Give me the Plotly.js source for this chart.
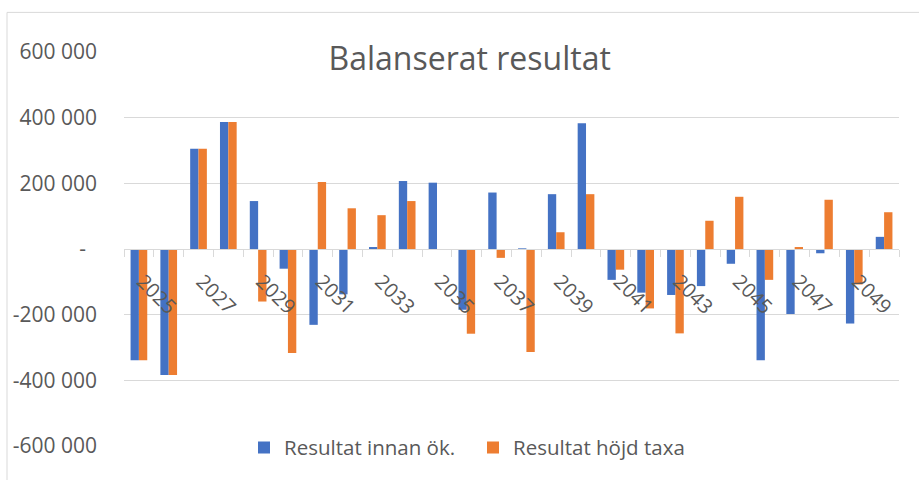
<!DOCTYPE html>
<html>
<head>
<meta charset="utf-8">
<script src="https://cdn.plot.ly/plotly-3.0.1.min.js"></script>
<style>
  html, body { margin: 0; padding: 0; background: #ffffff; }
  #chart { width: 919px; height: 480px; }
</style>
</head>
<body>
<div id="chart"></div>
<script>
// ---- data ----
var years = [2025, 2026, 2027, 2028, 2029, 2030, 2031, 2032, 2033, 2034, 2035, 2036, 2037,
             2038, 2039, 2040, 2041, 2042, 2043, 2044, 2045, 2046, 2047, 2048, 2049, 2050];

var resultatInnanOk = [-339000, -384000, 305000, 387000, 146000, -60000, -231000, -138000, 6000, 207000,
                       202000, -185000, 172000, 2000, 167000, 383000, -94000, -133000, -140000, -113000,
                       -45000, -339000, -198000, -13000, -227000, 37000];

var resultatHojdTaxa = [-339000, -384000, 305000, 387000, -160000, -317000, 204000, 124000, 103000, 146000,
                        -1000, -258000, -27000, -314000, 51000, 167000, -63000, -181000, -257000, 86000,
                        159000, -94000, 6000, 150000, -108000, 112000];

var seriesNames = ["Resultat innan ök.", "Resultat höjd taxa"];

var xTickYears = [2025, 2027, 2029, 2031, 2033, 2035, 2037, 2039, 2041, 2043, 2045, 2047, 2049];
var xTickLabels = ["2025", "2027", "2029", "2031", "2033", "2035", "2037", "2039", "2041", "2043", "2045", "2047", "2049"];

var yTickVals = [-600000, -400000, -200000, 0, 200000, 400000, 600000];
var yTickLabels = ["-600 000", "-400 000", "-200 000", "-\u00a0\u00a0", "200 000", "400 000", "600 000"];

var chartTitle = "Balanserat resultat";

// ---- styles ----
var BLUE = "#4472C4", ORANGE = "#ED7D31", TEXT = "#595959", GRID = "#D9D9D9";
var FONT = "'Open Sans', 'Noto Sans', sans-serif";

var traces = [
  { type: "bar", name: seriesNames[0], x: years, y: resultatInnanOk,
    marker: { color: BLUE, line: { width: 0 } }, hoverinfo: "x+y+name" },
  { type: "bar", name: seriesNames[1], x: years, y: resultatHojdTaxa,
    marker: { color: ORANGE, line: { width: 0 } }, hoverinfo: "x+y+name" }
];

var firstYear = years[0], lastYear = years[years.length - 1];
// rotated labels sit slightly right of the category centre, as in the original
var labelShift = 0.12;
var xTickPositions = xTickYears.map(function (y) { return y + labelShift; });

var layout = {
  width: 919, height: 480,
  margin: { l: 124, r: 20, t: 52, b: 30, pad: 0 },
  paper_bgcolor: "#ffffff", plot_bgcolor: "#ffffff",
  font: { family: FONT, color: TEXT },
  barmode: "group", bargap: 0.44, bargroupgap: 0,
  showlegend: true,
  title: {
    text: chartTitle,
    font: { family: FONT, size: 32, color: TEXT },
    xref: "paper", x: 0.446, xanchor: "center",
    yref: "container", y: 0.878, yanchor: "middle"
  },
  xaxis: {
    type: "linear",
    range: [firstYear - 0.5, lastYear + 0.5],
    tickmode: "array", tickvals: xTickPositions, ticktext: xTickLabels,
    tickangle: 45,
    ticks: "",
    ticklabelstandoff: 12,
    tickfont: { family: FONT, size: 20, color: TEXT },
    showgrid: false, zeroline: false,
    showline: true, linecolor: GRID, linewidth: 1,
    anchor: "free", position: 0.5,
    minor: { tickmode: "linear", tick0: firstYear - 0.5, dtick: 1,
             ticks: "outside", ticklen: 7, tickwidth: 1, tickcolor: GRID, showgrid: false },
    fixedrange: true
  },
  yaxis: {
    range: [-600000, 600000],
    tickmode: "array", tickvals: yTickVals, ticktext: yTickLabels,
    ticks: "",
    ticklabelstandoff: 26,
    tickfont: { family: FONT, size: 21, color: TEXT },
    showgrid: true, gridcolor: GRID, gridwidth: 1,
    zeroline: false, showline: false,
    fixedrange: true
  },
  legend: {
    orientation: "h",
    x: (244 - 124) / 775, xanchor: "left",
    y: -0.004, yanchor: "middle",
    entrywidth: 184, entrywidthmode: "pixels",
    bgcolor: "rgba(0,0,0,0)",
    font: { family: FONT, size: 20.5, color: TEXT },
    traceorder: "normal"
  },
  shapes: [
    { type: "rect", xref: "paper", yref: "paper",
      x0: (7 - 124) / 775, x1: (940 - 124) / 775,
      y0: (450 - 500) / 398, y1: (450 - 12) / 398,
      line: { color: GRID, width: 1 }, fillcolor: "rgba(0,0,0,0)", layer: "below" }
  ]
};

Plotly.newPlot("chart", traces, layout, { displayModeBar: false, staticPlot: true });
</script>
</body>
</html>
